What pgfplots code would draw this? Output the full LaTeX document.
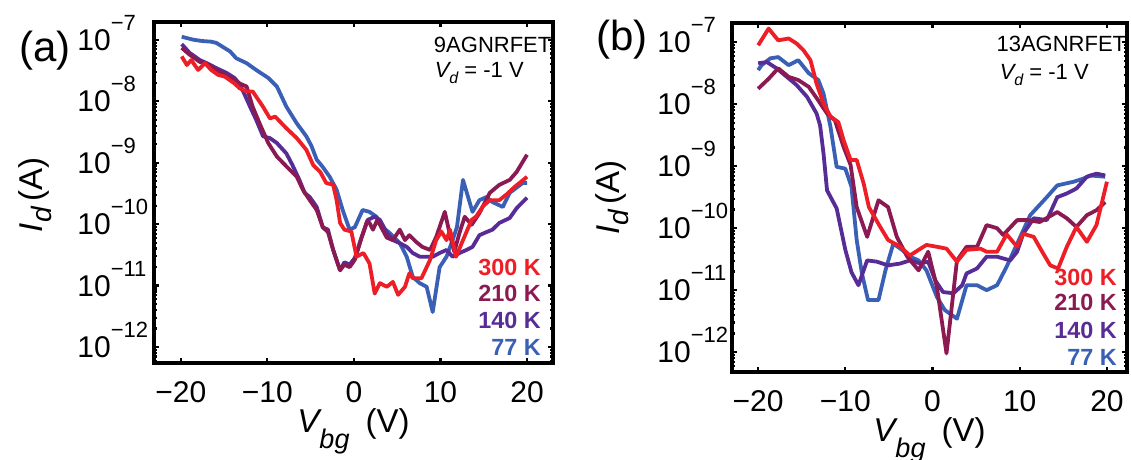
\documentclass[border=0pt]{standalone}
\usepackage{fontspec}
\setmainfont{Liberation Sans}
\usepackage{pgfplots}
\pgfplotsset{compat=1.18}

\definecolor{c300}{RGB}{238,30,38}
\definecolor{c210}{RGB}{140,26,82}
\definecolor{c140}{RGB}{88,44,150}
\definecolor{c77}{RGB}{58,96,182}

% 10^-n in the text font
\newcommand\tp[1]{10\raisebox{10pt}{\fontsize{11}{11}\selectfont −#1}}

\tikzset{
  note/.style={anchor=base west, font=\fontsize{11}{11}\selectfont},
  tag/.style={anchor=base east, font=\bfseries\fontsize{11.7}{11.7}\selectfont},
}

\pgfplotsset{
  agnr/.style={
    scale only axis,
    clip mode=individual,
    axis line style={line width=1.6pt},
    tick style={black, line width=1.1pt},
    major tick length=2.6pt,
    minor tick length=1.4pt,
    tick align=inside,
    xtick={-20,-10,0,10,20},
    xticklabels={−20,−10,0,10,20},
    ytick={-12,-11,-10,-9,-8,-7},
    yticklabels={\tp{12},\tp{11},\tp{10},\tp{9},\tp{8},\tp{7}},
    minor ytick={-12.222,-12.155,-12.097,-12.046,
      -11.699,-11.523,-11.398,-11.301,-11.222,-11.155,-11.097,-11.046,
      -10.699,-10.523,-10.398,-10.301,-10.222,-10.155,-10.097,-10.046,
      -9.699,-9.523,-9.398,-9.301,-9.222,-9.155,-9.097,-9.046,
      -8.699,-8.523,-8.398,-8.301,-8.222,-8.155,-8.097,-8.046,
      -7.699,-7.523,-7.398,-7.301,-7.222,-7.155,-7.097,-7.046},
    tick label style={font=\fontsize{15}{15}\selectfont},
    xticklabel style={anchor=base, yshift=-19.5pt},
    xlabel={{\itshape V}\raisebox{-8pt}{\fontsize{13.5}{13.5}\selectfont\itshape bg}\hspace{8pt}(V)},
    ylabel={{\itshape I}\raisebox{-4.5pt}{\fontsize{14}{14}\selectfont\itshape d}\,(A)},
    label style={font=\fontsize{16.5}{16.5}\selectfont},
    xlabel style={at={(axis description cs:0.5,0)}, anchor=base, yshift=-34.5pt},
    every axis plot/.append style={line width=1.9pt, line join=round, no markers},
  },
}

\begin{document}
\begin{tikzpicture}
\useasboundingbox (0,0) rectangle (565.5pt,-230pt);

\node[anchor=base west, font=\fontsize{21}{21}\selectfont] at (6pt,-31pt) {(a)};
\node[anchor=base west, font=\fontsize{21}{21}\selectfont] at (294.5pt,-25.5pt) {(b)};

% (a) 9AGNRFET
\begin{axis}[agnr,
  at={(77pt,-181.5pt)}, anchor=south west,
  width=199.5pt, height=170.5pt,
  xmin=-23.1, xmax=23.0, ymin=-12.26, ymax=-6.71,
  yticklabel style={anchor=base west, inner xsep=0pt, xshift=-38.5pt, yshift=-5.3pt},
  ylabel style={at={(axis description cs:-0.298,0.493)}, anchor=center},
]
\addplot[c77] coordinates {
 (-19.9,-6.95) (-18.5,-7.00) (-17.5,-7.02) (-16.5,-7.03) (-15.9,-7.05) (-14.3,-7.19)
 (-13.6,-7.30) (-12.4,-7.38) (-11.3,-7.49) (-9.9,-7.62) (-8.9,-7.76) (-7.8,-8.09)
 (-6.6,-8.36) (-5.5,-8.57) (-4.9,-8.73) (-4.3,-8.95) (-3.6,-9.07) (-2.8,-9.23)
 (-2.0,-9.44) (-1.3,-9.77) (-0.5,-10.09) (0.1,-10.05) (1.0,-9.77) (1.8,-9.80)
 (2.6,-9.88) (3.3,-10.05) (4.1,-10.14) (5.3,-10.31) (6.1,-10.53) (6.8,-10.86)
 (7.6,-10.96) (8.4,-11.02) (9.1,-11.43) (9.9,-10.70) (10.7,-10.53) (11.4,-10.26)
 (11.9,-10.05) (12.6,-9.28) (13.7,-9.80) (14.5,-9.61) (15.3,-9.56) (16.0,-9.64)
 (17.2,-9.72) (18.0,-9.49) (19.5,-9.33) (20.0,-9.33)
};
\addplot[c140] coordinates {
 (-19.9,-7.07) (-19.0,-7.21) (-17.8,-7.33) (-17.0,-7.38) (-15.9,-7.46) (-14.7,-7.54)
 (-13.8,-7.62) (-13.2,-7.72) (-12.6,-7.90) (-12.0,-8.09) (-11.3,-8.30) (-10.5,-8.57)
 (-9.7,-8.60) (-8.9,-8.68) (-7.8,-8.85) (-7.1,-9.04) (-6.3,-9.28) (-5.7,-9.49)
 (-5.1,-9.56) (-4.3,-9.72) (-3.6,-10.05) (-3.0,-10.09) (-2.4,-10.42) (-1.9,-10.63)
 (-1.6,-10.75) (-1.1,-10.62) (-0.5,-10.66) (0.1,-10.55) (0.9,-10.21) (1.6,-9.93)
 (2.4,-9.88) (3.0,-9.93) (3.8,-10.14) (4.5,-10.26) (5.3,-10.31) (6.1,-10.37)
 (6.8,-10.47) (7.6,-10.53) (8.4,-10.53) (9.1,-10.53) (9.9,-10.47) (10.7,-10.42)
 (11.4,-10.53) (12.2,-10.47) (13.0,-10.42) (13.7,-10.37) (14.5,-10.18) (15.3,-10.13)
 (16.0,-10.09) (16.8,-9.98) (18.0,-9.90) (18.8,-9.74) (20.0,-9.57)
};
\addplot[c210] coordinates {
 (-19.9,-7.13) (-19.0,-7.24) (-17.8,-7.36) (-17.0,-7.39) (-15.9,-7.49) (-14.7,-7.59)
 (-13.8,-7.65) (-13.2,-7.71) (-12.4,-7.76) (-11.7,-8.09) (-10.9,-8.36) (-9.9,-8.68)
 (-8.9,-8.90) (-7.8,-9.06) (-6.6,-9.23) (-5.9,-9.44) (-5.1,-9.61) (-4.3,-9.77)
 (-3.6,-10.05) (-3.0,-10.13) (-2.4,-10.42) (-1.9,-10.63) (-1.6,-10.75) (-1.1,-10.66)
 (-0.5,-10.70) (0.1,-10.58) (0.9,-10.21) (1.5,-9.96) (1.8,-9.98) (2.2,-10.09)
 (2.7,-9.93) (3.3,-10.09) (3.8,-10.22) (4.5,-10.26) (5.3,-10.09) (5.9,-10.26)
 (6.4,-10.18) (7.2,-10.29) (7.9,-10.37) (8.8,-10.42) (9.5,-10.21) (10.5,-9.80)
 (11.1,-10.18) (11.6,-10.45) (12.2,-10.14) (12.8,-9.88) (13.6,-10.01) (14.5,-9.82)
 (15.7,-9.49) (16.8,-9.36) (18.0,-9.28) (18.8,-9.15) (20.0,-8.87)
};
\addplot[c300] coordinates {
 (-19.9,-7.27) (-19.3,-7.41) (-18.8,-7.33) (-18.0,-7.49) (-17.2,-7.38) (-16.5,-7.49)
 (-15.7,-7.57) (-14.9,-7.60) (-13.8,-7.71) (-13.2,-7.79) (-12.4,-7.84) (-11.7,-7.84)
 (-10.5,-8.09) (-9.7,-8.28) (-9.1,-8.25) (-7.8,-8.44) (-6.6,-8.60) (-5.5,-8.79)
 (-4.7,-9.04) (-3.9,-9.15) (-3.2,-9.33) (-2.4,-9.36) (-2.0,-9.61) (-1.6,-9.98)
 (-1.1,-10.09) (-0.3,-10.12) (0.3,-10.53) (1.1,-10.47) (1.8,-10.64) (2.4,-11.13)
 (3.0,-10.96) (3.8,-11.02) (4.5,-10.94) (5.1,-11.15) (5.9,-11.02) (6.4,-10.80)
 (6.8,-10.88) (7.8,-10.88) (8.8,-10.58) (9.5,-10.26) (10.1,-10.12) (10.7,-10.26)
 (11.1,-10.09) (11.8,-10.53) (12.6,-10.26) (13.6,-9.93) (14.1,-9.88) (14.9,-9.71)
 (15.7,-9.61) (16.8,-9.61) (17.6,-9.52) (18.6,-9.39) (20.0,-9.23)
};
\node[note] at (rel axis cs:0.684,0.912) {9AGNRFET};
\node[note] at (rel axis cs:0.686,0.836) {{\itshape V}\raisebox{-3pt}{\fontsize{8}{8}\selectfont\itshape d} = -1 V};
\node[tag, text=c300] at (rel axis cs:0.987,0.258) {300 K};
\node[tag, text=c210] at (rel axis cs:0.987,0.179) {210 K};
\node[tag, text=c140] at (rel axis cs:0.987,0.100) {140 K};
\node[tag, text=c77] at (rel axis cs:0.987,0.021) {77 K};
\end{axis}

% (b) 13AGNRFET
\begin{axis}[agnr,
  at={(366pt,-186pt)}, anchor=south west,
  width=197.5pt, height=174.5pt,
  xmin=-23.0, xmax=22.3, ymin=-12.32, ymax=-6.69,
  yticklabel style={anchor=base west, inner xsep=0pt, xshift=-37.5pt, yshift=-5.3pt},
  ylabel style={at={(axis description cs:-0.304,0.501)}, anchor=center},
]
\addplot[c77] coordinates {
 (-20.0,-7.45) (-19.6,-7.37) (-18.6,-7.26) (-17.7,-7.24) (-16.5,-7.37) (-15.4,-7.29)
 (-14.2,-7.50) (-13.1,-7.61) (-12.5,-7.83) (-11.7,-8.37) (-11.0,-9.01) (-10.0,-9.04)
 (-9.3,-9.33) (-8.7,-10.19) (-8.1,-10.73) (-7.4,-11.16) (-6.2,-11.16) (-5.4,-10.68)
 (-4.5,-10.25) (-3.5,-10.35) (-2.6,-10.46) (-1.6,-10.52) (-0.7,-10.68) (0.5,-11.11)
 (1.4,-11.32) (2.8,-11.46) (3.9,-10.92) (5.1,-10.92) (6.2,-11.00) (7.4,-10.92)
 (8.5,-10.62) (9.7,-10.25) (11.2,-9.79) (13.1,-9.50) (14.3,-9.31) (16.2,-9.25)
 (17.3,-9.20) (18.1,-9.15) (19.8,-9.17)
};
\addplot[c140] coordinates {
 (-20.0,-7.34) (-19.0,-7.32) (-17.9,-7.42) (-16.7,-7.56) (-15.6,-7.69) (-14.4,-7.88)
 (-13.3,-8.15) (-12.9,-8.34) (-12.5,-8.80) (-12.1,-9.39) (-11.0,-9.68) (-10.0,-10.35)
 (-9.3,-10.71) (-8.5,-10.92) (-7.5,-10.52) (-6.4,-10.54) (-5.1,-10.60) (-3.7,-10.57)
 (-2.6,-10.52) (-1.4,-10.57) (-0.5,-10.54) (0.3,-10.84) (1.2,-11.03) (2.4,-11.05)
 (3.4,-10.92) (3.9,-10.73) (5.1,-10.65) (6.2,-10.46) (7.4,-10.46) (8.9,-10.52)
 (9.7,-10.38) (10.4,-10.09) (11.6,-9.84) (13.1,-9.87) (14.3,-9.50) (15.4,-9.44)
 (16.5,-9.36) (17.7,-9.17) (18.8,-9.12) (19.8,-9.15)
};
\addplot[c210] coordinates {
 (-20.0,-7.75) (-18.8,-7.59) (-17.7,-7.42) (-16.5,-7.56) (-15.4,-7.61) (-14.2,-7.72)
 (-13.1,-7.94) (-12.1,-8.15) (-11.2,-8.26) (-10.2,-8.69) (-9.4,-8.98) (-8.7,-9.66)
 (-7.5,-10.14) (-6.2,-9.55) (-5.1,-9.66) (-4.1,-10.14) (-2.9,-10.46) (-1.6,-10.68)
 (-0.5,-10.38) (0.5,-10.95) (1.6,-12.02) (2.8,-10.52) (3.9,-10.30) (5.1,-10.30)
 (6.2,-9.95) (7.4,-10.00) (8.1,-10.11) (9.7,-9.87) (10.8,-9.87) (12.3,-9.90)
 (14.3,-9.74) (15.4,-9.84) (16.5,-9.98) (17.7,-9.79) (18.8,-9.71) (19.8,-9.58)
};
\addplot[c300] coordinates {
 (-20.0,-7.05) (-18.8,-6.78) (-17.7,-6.97) (-16.5,-6.94) (-15.6,-7.02) (-14.8,-7.13)
 (-14.0,-7.29) (-13.3,-7.67) (-12.5,-7.99) (-11.7,-8.20) (-10.8,-8.29) (-10.2,-8.58)
 (-9.4,-8.90) (-8.7,-8.90) (-7.9,-9.28) (-7.3,-9.66) (-6.0,-9.98) (-5.1,-10.19)
 (-3.7,-10.30) (-2.6,-10.44) (-1.6,-10.35) (-0.7,-10.27) (0.5,-10.30) (1.6,-10.33)
 (2.8,-10.54) (3.9,-10.35) (5.5,-10.33) (6.2,-10.38) (7.4,-10.38) (8.5,-10.10)
 (9.7,-10.30) (10.4,-10.09) (11.6,-10.14) (12.7,-10.41) (13.5,-10.60) (14.4,-10.65)
 (15.4,-10.30) (16.5,-9.98) (17.7,-10.22) (18.8,-9.95) (20.0,-9.25)
};
\node[note] at (rel axis cs:0.652,0.917) {13AGNRFET};
\node[note] at (rel axis cs:0.660,0.837) {{\itshape V}\raisebox{-3pt}{\fontsize{8}{8}\selectfont\itshape d} = -1 V};
\node[tag, text=c300] at (rel axis cs:0.992,0.249) {300 K};
\node[tag, text=c210] at (rel axis cs:0.992,0.175) {210 K};
\node[tag, text=c140] at (rel axis cs:0.992,0.097) {140 K};
\node[tag, text=c77] at (rel axis cs:0.992,0.020) {77 K};
\end{axis}
\end{tikzpicture}
\end{document}
